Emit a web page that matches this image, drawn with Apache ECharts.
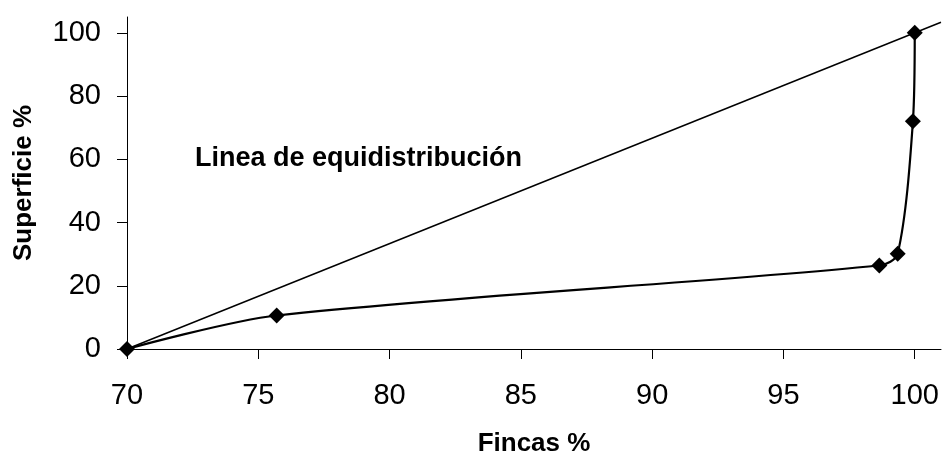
<!DOCTYPE html>
<html>
<head>
<meta charset="utf-8">
<script src="https://cdn.jsdelivr.net/npm/echarts@6/dist/echarts.min.js"></script>
<style>
html,body{margin:0;padding:0;background:#fff;}
#main{width:944px;height:458px;}
</style>
</head>
<body>
<div id="main"></div>
<script>
// Lorenz-type curve: Fincas % (x) vs Superficie % (y)
const fincas = [70, 75.7, 98.65, 99.35, 99.93, 100];
const superficie = [0, 10.6, 26.4, 30.1, 72, 100];
// Equidistribution line endpoints
const equiX = [70, 101];
const equiY = [0, 103.33];
const xTicks = [70, 75, 80, 85, 90, 95, 100];
const yTicks = [0, 20, 40, 60, 80, 100];
const annotation = 'Linea de equidistribución';

const FONT = '"Liberation Sans", Arial, sans-serif';
const chart = echarts.init(document.getElementById('main'), null, {renderer: 'canvas'});
chart.setOption({
  animation: false,
  backgroundColor: '#fff',
  grid: {left: 127, right: 3, top: 17, bottom: 109, containLabel: false, outerBoundsMode: 'none'},
  xAxis: {
    type: 'value', min: 70, max: 101,
    name: 'Fincas %', nameLocation: 'middle', nameGap: 82,
    nameTextStyle: {fontFamily: FONT, fontSize: 26, fontWeight: 'bold', color: '#000'},
    axisLine: {show: true, onZero: false, lineStyle: {color: '#000', width: 1}},
    axisTick: {show: true, length: 10, inside: false, customValues: xTicks, lineStyle: {color: '#000'}},
    axisLabel: {customValues: xTicks, margin: 32, fontFamily: FONT, fontSize: 29, color: '#000'},
    splitLine: {show: false}
  },
  yAxis: {
    type: 'value', min: 0, max: 105,
    name: 'Superficie %', nameLocation: 'middle', nameGap: 90,
    nameTextStyle: {fontFamily: FONT, fontSize: 26, fontWeight: 'bold', color: '#000'},
    axisLine: {show: true, onZero: false, lineStyle: {color: '#000', width: 1}},
    axisTick: {show: true, length: 10, inside: false, customValues: yTicks, lineStyle: {color: '#000'}},
    axisLabel: {customValues: yTicks, margin: 26, fontFamily: FONT, fontSize: 29, color: '#000'},
    splitLine: {show: false}
  },
  graphic: [{
    type: 'text', left: 195, top: 145,
    style: {text: annotation, font: 'bold 27px ' + FONT, fill: '#000'}
  }],
  series: [
    {
      type: 'line',
      data: equiX.map((x, i) => [x, equiY[i]]),
      showSymbol: false, symbol: 'none',
      lineStyle: {color: '#000', width: 1.5},
      z: 2
    },
    {
      type: 'line',
      data: fincas.map((x, i) => [x, superficie[i]]),
      smooth: 0.3,
      symbol: 'diamond', symbolSize: 16,
      itemStyle: {color: '#000'},
      lineStyle: {color: '#000', width: 2.2},
      z: 3
    }
  ]
});
</script>
</body>
</html>
